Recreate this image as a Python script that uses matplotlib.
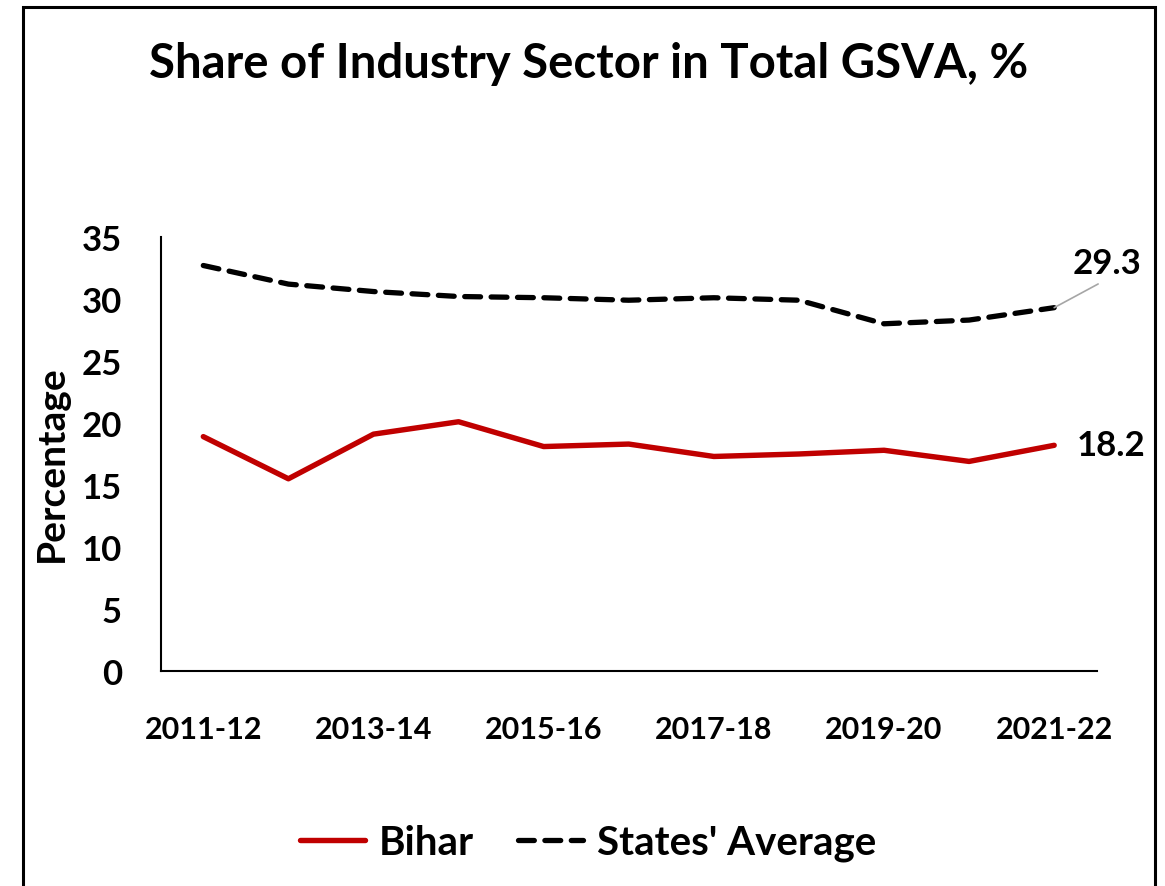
import matplotlib
matplotlib.use("Agg")
import matplotlib.pyplot as plt
from matplotlib.patches import Rectangle

# -------------------------------
# DATA
# -------------------------------
years = ["2011-12", "2012-13", "2013-14", "2014-15", "2015-16", "2016-17",
         "2017-18", "2018-19", "2019-20", "2020-21", "2021-22"]
bihar = [18.9, 15.5, 19.1, 20.1, 18.1, 18.3, 17.3, 17.5, 17.8, 16.9, 18.2]
states_avg = [32.7, 31.2, 30.6, 30.2, 30.1, 29.9, 30.1, 29.9, 28.0, 28.3, 29.3]
yticks = [0, 5, 10, 15, 20, 25, 30, 35]

plt.rcParams["font.family"] = ["Lato", "DejaVu Sans"]
plt.rcParams["font.weight"] = "bold"

fig = plt.figure(figsize=(11.65, 8.87), dpi=100)
ax = fig.add_axes([0.138, 0.2424, 0.8034, 0.4893])

x = list(range(len(years)))
ax.plot(x, bihar, color="#C00000", lw=3.9, solid_capstyle="round",
        label="Bihar")
ax.plot(x, states_avg, color="black", lw=3.8, dashes=(3.0, 2.0),
        dash_capstyle="round", label="States' Average")

# -------------------------------
# AXES
# -------------------------------
ax.set_xlim(-0.5, len(years) - 0.5)
ax.set_ylim(0, 35)
ax.set_yticks(yticks)
ax.set_yticklabels([str(v) for v in yticks], fontsize=25, fontweight="bold")
ax.set_xticks(x[::2])
ax.set_xticklabels(years[::2], fontsize=22, fontweight="bold")
ax.tick_params(axis="both", length=0)
ax.tick_params(axis="x", pad=32)
ax.tick_params(axis="y", pad=28)
for side in ["top", "right"]:
    ax.spines[side].set_visible(False)
for side in ["left", "bottom"]:
    ax.spines[side].set_linewidth(1.5)
ax.set_ylabel("Percentage", fontsize=28, fontweight="bold")
ax.yaxis.set_label_coords(-0.098, 0.48)

# -------------------------------
# END LABELS
# -------------------------------
ax.annotate(f"{bihar[-1]:.1f}", xy=(x[-1], bihar[-1]), xytext=(16, 0),
            textcoords="offset points", fontsize=25, fontweight="bold",
            ha="left", va="center")
ax.annotate(f"{states_avg[-1]:.1f}", xy=(x[-1], states_avg[-1]),
            xytext=(38, 32), textcoords="offset points", fontsize=25,
            fontweight="bold", ha="center", va="center",
            arrowprops=dict(arrowstyle="-", color="#A6A6A6", lw=1.2,
                            relpos=(0.5, 0.0), shrinkA=3, shrinkB=0))

# -------------------------------
# TITLE / LEGEND / FRAME
# -------------------------------
fig.text(0.505, 0.928, "Share of Industry Sector in Total GSVA, %",
         fontsize=34, fontweight="bold", ha="center", va="center")

fig.legend(loc="center", bbox_to_anchor=(0.505, 0.049), ncol=2, frameon=False,
           prop={"size": 29, "weight": "bold"}, handlelength=1.6,
           columnspacing=1.1, handletextpad=0.35)

fig.patches.append(Rectangle((0.0197, -0.05), 0.9717, 1.041,
                             transform=fig.transFigure, fill=False,
                             edgecolor="black", lw=2.2))

fig.savefig("out.png", dpi=100)
